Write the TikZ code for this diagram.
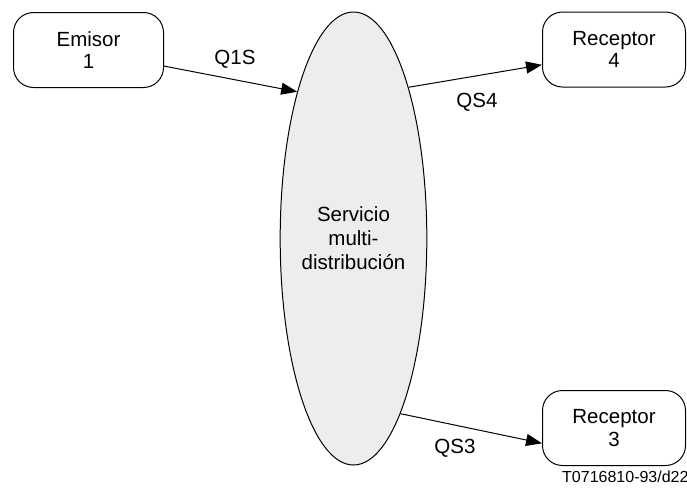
\documentclass[tikz,border=0pt]{standalone}
\usepackage{fontspec}
\setmainfont{Liberation Sans}
\usetikzlibrary{arrows.meta,shapes.geometric}
\begin{document}
\begin{tikzpicture}[x=1pt,y=-1pt,
  box/.style={draw,line width=1pt,rounded corners=20pt,minimum width=150pt,minimum height=75pt,align=center,font=\fontsize{20.5}{22.5}\selectfont,inner sep=0pt},
  cloud/.style={draw,line width=1pt,ellipse,fill=black!7,minimum width=137pt,minimum height=453pt,inner sep=0pt,align=center,font=\fontsize{20.5}{24}\selectfont},
  lbl/.style={font=\fontsize{20.5}{23}\selectfont,inner sep=0pt},
  arr/.style={line width=1pt,-{Triangle[length=16pt,width=12pt]}}]
\useasboundingbox (0,0) rectangle (687,488);
\node[box] (E) at (88.5,50) {Emisor\\1};
\node[box,minimum width=143pt] (R4) at (614,49.5) {Receptor\\4};
\node[box,minimum width=143pt] (R3) at (614,428) {Receptor\\3};
\node[cloud] (S) at (353.5,238.5) {Servicio\\multi-\\distribución};
\draw[arr] (E.-12.3) -- (S.111);
\draw[arr] (S.70) -- (R4.192);
\draw[arr] (S.-75) -- (R3.192);
\node[lbl] (q1) at (235,59) {Q1S};
\node[lbl] (q4) at (477,102) {QS4};
\node[lbl] (q3) at (455,448.5) {QS3};
\node[anchor=west,inner sep=0pt,font=\fontsize{16}{18}\selectfont] (ref) at (562,477) {T0716810-93/d22};
\end{tikzpicture}
\end{document}
